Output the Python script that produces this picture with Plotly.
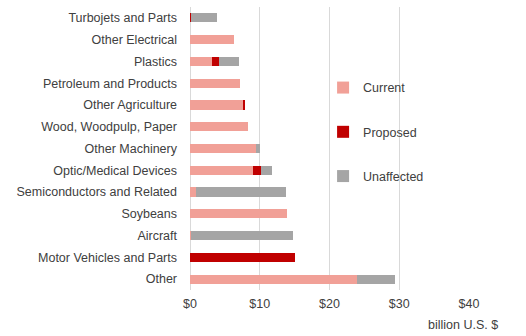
import plotly.graph_objects as go

categories = ["Turbojets and Parts", "Other Electrical", "Plastics", "Petroleum and Products",
              "Other Agriculture", "Wood, Woodpulp, Paper", "Other Machinery",
              "Optic/Medical Devices", "Semiconductors and Related", "Soybeans", "Aircraft",
              "Motor Vehicles and Parts", "Other"]
current = [0.0, 6.3, 3.1, 7.2, 7.7, 8.3, 9.4, 9.0, 0.8, 13.9, 0.2, 0.0, 23.9]
proposed = [0.2, 0.0, 1.0, 0.0, 0.2, 0.0, 0.0, 1.2, 0.0, 0.0, 0.0, 15.0, 0.0]
unaffected = [3.6, 0.0, 2.9, 0.0, 0.0, 0.0, 0.6, 1.5, 13.0, 0.0, 14.6, 0.0, 5.5]
tick_vals = [0, 10, 20, 30, 40]
tick_text = ["$0", "$10", "$20", "$30", "$40"]

font = dict(family="Liberation Sans, Arial, sans-serif", size=12.5, color="#404040")

fig = go.Figure()
for name, vals, color, grp in [("Current", current, "#F1A097", "a"),
                               ("Proposed", proposed, "#C00000", "b"),
                               ("Unaffected", unaffected, "#A5A5A5", "c")]:
    fig.add_trace(go.Bar(y=categories, x=vals, name=name, orientation="h",
                         marker=dict(color=color, line=dict(width=0)),
                         legendgroup=grp))

fig.update_layout(
    barmode="stack",
    bargap=0.58,
    width=526, height=336,
    margin=dict(l=190, r=57, t=7, b=46),
    paper_bgcolor="white", plot_bgcolor="white",
    font=font,
    showlegend=True,
    legend=dict(x=0.477, y=0.767, xanchor="left", yanchor="top",
                tracegroupgap=25, bgcolor="rgba(0,0,0,0)", itemwidth=30,
                font=font),
    xaxis=dict(range=[0, 40], tickvals=tick_vals, ticktext=tick_text,
               showgrid=True, gridcolor="#D9D9D9", gridwidth=1,
               zeroline=True, zerolinecolor="#D9D9D9", zerolinewidth=1,
               showline=False, ticks="", ticklabelstandoff=4),
    yaxis=dict(autorange="reversed", showgrid=False, zeroline=False, ticks="",
               showline=False, ticklabelstandoff=12),
    annotations=[dict(text="billion U.S. $", xref="paper", yref="paper",
                      x=1.11, y=0, xanchor="right", yanchor="middle", yshift=-35,
                      showarrow=False, font=font)],
)

fig.write_html("out.html")
